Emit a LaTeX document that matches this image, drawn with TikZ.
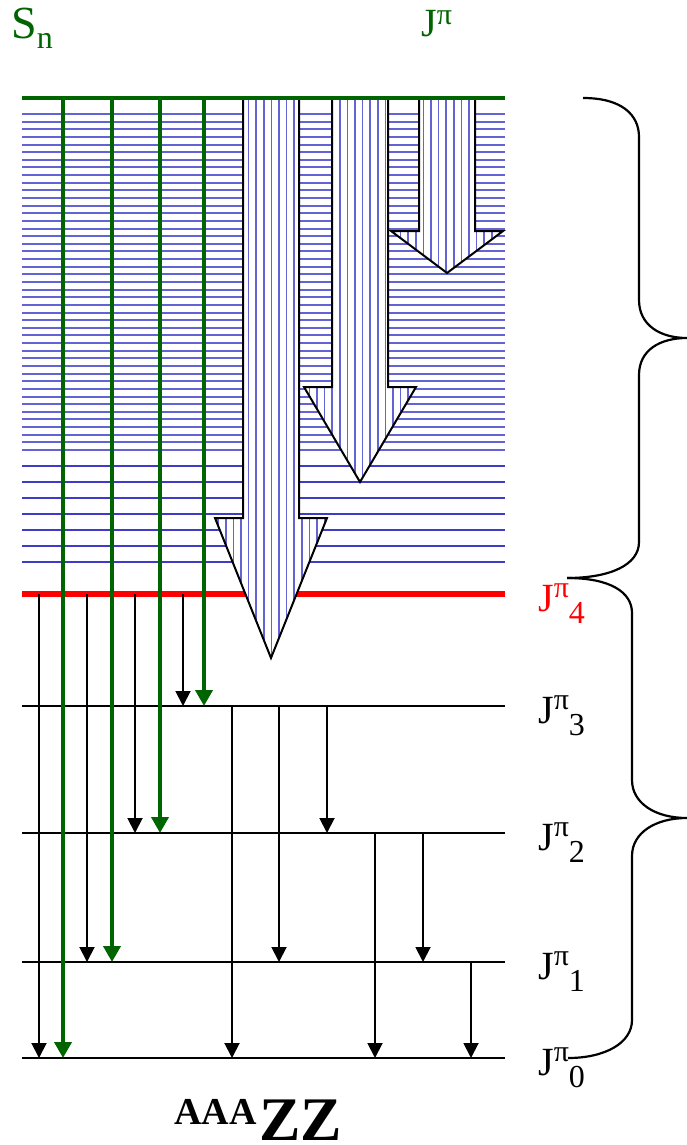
\documentclass[tikz,border=0pt]{standalone}
\usepackage{fontspec}
\setmainfont{Liberation Serif}
\usetikzlibrary{arrows.meta}
\definecolor{dgreen}{RGB}{0,100,0}
\definecolor{hblue}{RGB}{60,60,200}
\tikzset{
  densel/.style={hblue, line width=2pt, opacity=0.8},
  thickl/.style={hblue, line width=2.6pt},
  hatch/.style={hblue, line width=1.7pt, opacity=0.8},
  level/.style={black, line width=2pt},
  blk/.style={black, line width=1.9pt, -{Triangle[width=15pt,length=15pt]}},
  grn/.style={dgreen, line width=3.8pt, -{Triangle[width=17pt,length=16pt]}},
  fat/.style={black, line width=2pt, line join=miter},
  brace/.style={black, line width=2.2pt},
  jlab/.style={anchor=base west, inner sep=0pt},
}
\newcommand{\jpi}[1]{{\fontsize{40}{40}\selectfont J}\raisebox{14pt}{\fontsize{30}{30}\selectfont π}\raisebox{-12pt}{\fontsize{32}{32}\selectfont #1}}
\begin{document}
\begin{tikzpicture}[x=1pt,y=-1pt]
\useasboundingbox (0,0) rectangle (687,1145);
% dense blue lines
\foreach \i in {0,...,44} \draw[densel] (22,{114+\i*7.636}) -- (505,{114+\i*7.636});
\foreach \y in {466,482,...,562} \draw[thickl] (22,\y) -- (505,\y);
% levels
\draw[red, line width=5.5pt] (22,594) -- (505,594);
\foreach \y in {706,833,962,1058} \draw[level] (22,\y) -- (505,\y);
% green arrows
\draw[grn] (63,98) -- (63,1058);
\draw[grn] (112,98) -- (112,962);
\draw[grn] (160,98) -- (160,833);
\draw[grn] (204,98) -- (204,706);
% black arrows
\draw[blk] (39,594) -- (39,1058);
\draw[blk] (87,594) -- (87,962);
\draw[blk] (135,594) -- (135,833);
\draw[blk] (183,594) -- (183,706);
\draw[blk] (232,706) -- (232,1058);
\draw[blk] (279,706) -- (279,962);
\draw[blk] (327,706) -- (327,833);
\draw[blk] (375,833) -- (375,1058);
\draw[blk] (423,833) -- (423,962);
\draw[blk] (471,962) -- (471,1058);
% fat arrows
\foreach \p in {
  {(243,98) -- (299,98) -- (299,518) -- (327,518) -- (271,658) -- (215,518) -- (243,518) -- cycle},
  {(332,98) -- (388,98) -- (388,387) -- (416,387) -- (360,482) -- (304,387) -- (332,387) -- cycle},
  {(419,98) -- (475,98) -- (475,231) -- (503,231) -- (447,273) -- (391,231) -- (419,231) -- cycle}} {
  \begin{scope}
    \clip \p;
    \fill[white] (200,90) rectangle (520,670);
    \foreach \x in {0,...,42} \draw[hatch] ({203+\x*7.6},90) -- ({203+\x*7.6},670);
  \end{scope}
  \draw[fat] \p;
}
% Sn line
\draw[dgreen, line width=3.6pt] (22,98) -- (505,98);
% braces
\draw[brace] (583,98) .. controls (622,98) and (639,115) .. (639,137) -- (639,300)
  .. controls (639,325) and (660,338) .. (687,338)
  .. controls (660,338) and (639,350) .. (639,375) -- (639,542)
  .. controls (639,565) and (610,578) .. (567,578);
\draw[brace] (567,578) .. controls (610,578) and (632,592) .. (632,613) -- (632,780)
  .. controls (632,803) and (655,818) .. (687,818)
  .. controls (655,818) and (632,833) .. (632,856) -- (632,1020)
  .. controls (632,1043) and (605,1058) .. (568,1058);
% labels
\node[jlab, text=dgreen] (sn) at (11,39) {{\fontsize{46}{46}\selectfont S}\raisebox{-10pt}{\fontsize{32}{32}\selectfont n}};
\node[jlab, text=dgreen] (jp) at (421,37) {{\fontsize{40}{40}\selectfont J}\raisebox{12pt}{\fontsize{30}{30}\selectfont π}};
\node[jlab, text=red] (j4) at (538,611) {\jpi{4}};
\node[jlab] (j3) at (538,723) {\jpi{3}};
\node[jlab] (j2) at (538,850) {\jpi{2}};
\node[jlab] (j1) at (538,979) {\jpi{1}};
\node[jlab] (j0) at (538,1075) {\jpi{0}};
\node[jlab] (aaa) at (174,1124) {\bfseries\fontsize{38}{38}\selectfont AAA};
\node[jlab] (zz) at (259,1140) {\bfseries\fontsize{62}{62}\selectfont ZZ};
\end{tikzpicture}
\end{document}
